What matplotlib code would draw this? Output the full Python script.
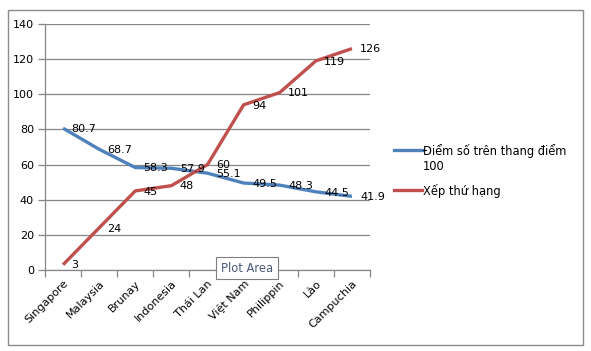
import numpy as np
import matplotlib
matplotlib.use('Agg')
import matplotlib.pyplot as plt
from matplotlib.lines import Line2D
from matplotlib.patches import Rectangle

countries = ['Singapore', 'Malaysia', 'Brunay', 'Indonesia', 'Thái Lan',
             'Việt Nam', 'Philippin', 'Lào', 'Campuchia']
score = [80.7, 68.7, 58.3, 57.9, 55.1, 49.5, 48.3, 44.5, 41.9]
rank = [3, 24, 45, 48, 60, 94, 101, 119, 126]
score_name = 'Điểm số trên thang điểm\n100'
rank_name = 'Xếp thứ hạng'

blue = '#4F81BD'
red = '#C0504D'
grid_c = '#868686'
fs = 8

plt.rcParams['font.family'] = ['DejaVu Sans']

fig = plt.figure(figsize=(5.91, 3.51), dpi=100)
ax = fig.add_axes([45 / 591, 1 - 270 / 351, 325 / 591, 246 / 351])

x = np.arange(len(countries))
ax.plot(x, score, color=blue, lw=2.4, solid_capstyle='butt', zorder=3)
ax.plot(x, rank, color=red, lw=2.4, solid_capstyle='butt', zorder=3)

for xi, v in zip(x, score):
    ax.annotate(f'{v:g}', (xi, v), xytext=(6, -0.5), textcoords='offset points',
                ha='left', va='center', fontsize=fs, color='black', zorder=4)
for xi, v in zip(x, rank):
    ax.annotate(f'{v:g}', (xi, v), xytext=(6, -0.5), textcoords='offset points',
                ha='left', va='center', fontsize=fs, color='black', zorder=4)

ax.set_xlim(-0.5, len(countries) - 0.5)
ax.set_ylim(0, 140)
ax.set_yticks(range(0, 141, 20))
ax.yaxis.grid(True, color=grid_c, lw=0.9)
ax.set_axisbelow(True)

ax.set_xticks(x)
ax.set_xticklabels(countries, rotation=45, ha='right', va='top',
                   rotation_mode='anchor', fontsize=fs)
ax.set_xticks(np.arange(-0.5, len(countries)), minor=True)
ax.tick_params(axis='x', which='major', length=0, pad=6)
ax.tick_params(axis='x', which='minor', length=5, color=grid_c, width=0.9)
ax.tick_params(axis='y', length=5, color=grid_c, width=0.9, labelsize=fs, pad=3)

for s in ['top', 'right']:
    ax.spines[s].set_visible(False)
for s in ['left', 'bottom']:
    ax.spines[s].set_color(grid_c)
    ax.spines[s].set_linewidth(0.9)

# outer chart border
fig.patches.append(Rectangle((8 / 591, 1 - 345 / 351), 575 / 591, 335 / 351,
                             transform=fig.transFigure, fill=False,
                             edgecolor='#8c8c8c', lw=1))

# legend drawn by hand so the line sits on the first text row
for y, c, lab in [(150, blue, score_name), (190, red, rank_name)]:
    fy = 1 - y / 351
    fig.lines.append(Line2D([394 / 591, 422 / 591], [fy, fy], color=c, lw=2.4,
                            transform=fig.transFigure))
    fig.text(423 / 591, fy + 6 / 351, lab, ha='left', va='top', fontsize=8.3,
             linespacing=1.2)

fig.text(247 / 591, 1 - 268 / 351, 'Plot Area', ha='center', va='center',
         fontsize=8.3, color='#4a5a7a',
         bbox=dict(boxstyle='square,pad=0.4', fc='white', ec='#7f7f7f', lw=0.8))

fig.savefig('out.png', dpi=100)
